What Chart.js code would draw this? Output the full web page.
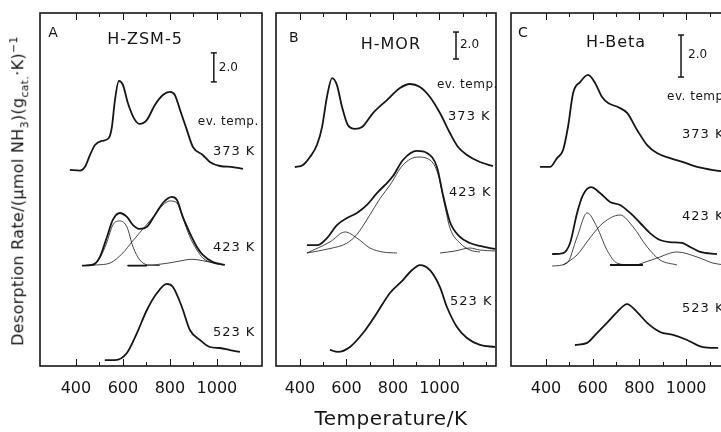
<!DOCTYPE html>
<html>
<head>
<meta charset="utf-8">
<script src="https://cdn.jsdelivr.net/npm/chart.js@4.4.1/dist/chart.umd.min.js"></script>
<style>
  html, body { margin: 0; padding: 0; background: #fff; }
  #fig { position: relative; width: 721px; height: 432px; overflow: hidden; font-family: "DejaVu Sans", sans-serif; color: #161616; }
  #fig canvas { position: absolute; top: 0; }
  #ytitle { position: absolute; left: 19px; top: 191px; transform: translate(-50%, -50%) rotate(-90deg); white-space: nowrap; font-size: 16px; letter-spacing: 0.3px; }
  #ytitle sub, #ytitle sup { font-size: 11px; }
  #xtitle { position: absolute; left: 391px; top: 418px; transform: translate(-50%, -50%); white-space: nowrap; font-size: 20px; letter-spacing: 0.5px; }
</style>
</head>
<body>
<div id="fig">
  <canvas id="cA" width="242" height="432" style="left:30px"></canvas>
  <canvas id="cB" width="240" height="432" style="left:266px"></canvas>
  <canvas id="cC" width="240" height="432" style="left:501px"></canvas>
  <div id="ytitle">Desorption Rate/(&mu;mol NH<sub>3</sub>)(g<sub>cat.</sub>&middot;K)<sup>&minus;1</sup></div>
  <div id="xtitle">Temperature/K</div>
</div>
<script>
  // text
  const panelNames = ['H-ZSM-5', 'H-MOR', 'H-Beta'];
  const panelLetters = ['A', 'B', 'C'];
  const evTemps = ['373 K', '423 K', '523 K'];
  const evLabel = 'ev. temp.';
  const scaleBarValue = 2.0;
  const labeledTicks = [400, 600, 800, 1000];

  // [T (K), desorption rate incl. stacking offset]
  // H-ZSM-5
  const zsm373 = [[374,13.52],[417,13.47],[438,13.72],[460,14.55],[481,15.24],[511,15.52],[540,15.72],[553,16.48],[566,18.34],[583,19.66],[600,19.38],[621,18.14],[651,16.97],[672,16.69],[702,16.97],[736,18.0],[770,18.69],[800,18.9],[821,18.69],[843,17.66],[872,16.28],[898,15.1],[940,14.55],[970,14.07],[1013,13.79],[1068,13.72],[1111,13.59]];
  const zsm423 = [[426,6.92],[472,6.97],[502,7.52],[532,8.9],[557,10.07],[587,10.55],[617,10.28],[643,9.72],[672,9.45],[702,9.59],[736,10.41],[770,11.24],[808,11.66],[830,11.45],[855,10.28],[885,9.17],[915,8.21],[940,7.66],[983,7.17],[1034,6.97]];
  const zsm423a = [[438,6.93],[481,7.1],[502,7.45],[532,8.55],[557,9.72],[587,10.0],[617,9.59],[643,8.21],[672,7.31],[706,6.97],[757,6.93]];
  const zsm423b = [[451,6.93],[489,6.97],[545,7.1],[600,7.8],[638,8.55],[685,9.45],[736,10.41],[770,11.1],[800,11.38],[830,11.24],[855,10.21],[885,8.9],[915,8.0],[940,7.45],[983,7.1],[1026,6.97]];
  const zsm423c = [[617,6.92],[702,6.94],[787,7.08],[843,7.24],[894,7.36],[940,7.26],[983,7.12],[1026,6.97]];
  const zsmBase = [[621,6.92],[702,6.92]];
  const zsm523 = [[523,0.41],[566,0.41],[617,0.9],[660,2.28],[702,3.86],[745,5.03],[787,5.66],[813,5.45],[851,4.07],[885,2.48],[928,1.79],[970,1.31],[1013,1.24],[1055,1.1],[1098,0.97]];

  // H-MOR
  const mor373 = [[378,14.74],[413,14.89],[443,15.48],[473,16.37],[495,17.7],[516,19.93],[538,21.33],[559,20.81],[581,19.19],[606,17.85],[637,17.56],[667,17.7],[714,18.74],[774,19.7],[830,20.59],[873,20.89],[916,20.67],[959,19.93],[1002,18.74],[1045,17.26],[1080,16.22],[1118,15.63],[1174,15.11],[1230,14.81]];
  const mor423 = [[430,8.96],[477,8.96],[516,9.48],[559,10.44],[602,10.96],[645,11.33],[688,11.93],[731,12.81],[766,13.41],[800,14.07],[843,15.26],[903,15.93],[946,15.78],[989,14.74],[1015,12.67],[1045,10.67],[1088,9.56],[1131,9.11],[1174,8.89],[1239,8.67]];
  const mor423big = [[430,8.37],[529,8.7],[602,9.1],[645,9.75],[701,11.2],[744,12.4],[787,13.4],[843,14.89],[907,15.48],[959,15.26],[994,14.2],[1024,11.8],[1045,10.22],[1088,9.11],[1131,8.59],[1174,8.44]];
  const mor423low = [[430,8.37],[529,9.19],[594,9.93],[645,9.48],[701,8.74],[757,8.44],[817,8.37]];
  const mor423high = [[1002,8.37],[1067,8.52],[1131,8.74],[1174,8.59],[1239,8.52]];
  const mor523 = [[529,1.19],[563,1.04],[615,1.41],[671,2.44],[731,3.93],[787,5.41],[843,6.37],[882,7.11],[916,7.48],[959,7.11],[1002,5.85],[1032,4.37],[1075,2.89],[1118,2.07],[1174,1.56],[1239,1.41]];

  // H-Beta
  const beta373 = [[374,9.48],[417,9.48],[447,9.9],[473,10.29],[494,11.38],[516,13.0],[546,13.52],[580,13.86],[610,13.48],[640,12.81],[666,12.52],[708,12.33],[747,12.05],[790,11.24],[833,10.52],[875,10.14],[931,9.9],[987,9.71],[1047,9.48],[1115,9.33],[1190,9.24]];
  const beta423 = [[426,5.33],[473,5.38],[503,5.86],[533,7.29],[558,8.14],[593,8.52],[631,8.24],[674,7.81],[717,7.67],[760,7.29],[803,6.81],[845,6.33],[888,6.0],[931,5.9],[982,5.86],[1017,5.67],[1060,5.43],[1132,5.33]];
  const beta423a = [[426,4.76],[490,4.9],[533,6.14],[576,7.29],[618,6.62],[661,5.52],[704,4.9],[760,4.81]];
  const beta423b = [[473,4.81],[533,5.29],[588,6.1],[644,6.81],[717,7.19],[773,6.62],[833,5.67],[888,5.05],[961,4.81]];
  const beta423c = [[790,4.81],[875,5.14],[961,5.43],[1047,5.19],[1115,4.9],[1167,4.81]];
  const betaBase = [[674,4.81],[815,4.81]];
  const beta523 = [[524,1.0],[576,1.1],[618,1.57],[661,2.05],[704,2.57],[747,2.95],[790,2.57],[833,2.05],[888,1.62],[944,1.48],[1004,1.24],[1072,0.9],[1137,0.86]];

  const ink = '#161616';

  const panels = [
    { id: 'cA', xMin: 247, xMax: 1192, yMax: 24.34, ticks: [400,500,600,700,800,900,1000,1100],
      thick: [zsm373, zsm423, zsm523, zsmBase], thin: [zsm423a, zsm423b, zsm423c],
      bar: [987, 19.59], letter: [302, 22.97], title: [694, 22.48], barText: [1008, 20.55],
      ev: [919, 16.83], temps: [[983, 14.76], [983, 8.14], [983, 2.28]] },
    { id: 'cB', xMin: 297, xMax: 1243, yMax: 26.15, ticks: [400,500,600,700,800,900,1000,1100,1200],
      thick: [mor373, mor423, mor523], thin: [mor423big, mor423low, mor423high],
      bar: [1071, 22.74], letter: [374, 24.3], title: [791, 23.78], barText: [1088, 23.78],
      ev: [989, 20.81], temps: [[1037, 18.44], [1041, 12.81], [1045, 4.74]] },
    { id: 'cC', xMin: 250, xMax: 1192, yMax: 16.81, ticks: [400,500,600,700,800,900,1000,1100],
      thick: [beta373, beta423, beta523, betaBase], thin: [beta423a, beta423b, beta423c],
      bar: [978, 13.76], letter: [301, 15.86], title: [700, 15.38], barText: [1008, 14.81],
      ev: [918, 12.81], temps: [[982, 11.0], [982, 7.1], [982, 2.71]] }
  ];

  const panelDecor = {
    id: 'panelDecor',
    afterDatasetsDraw(chart, args, opts) {
      const { ctx, chartArea: a } = chart;
      const x = chart.scales.x, y = chart.scales.y;
      ctx.save();
      ctx.strokeStyle = ink;
      ctx.lineWidth = 1.6;
      ctx.strokeRect(a.left, a.top, a.right - a.left, a.bottom - a.top);
      ctx.lineWidth = 1;
      opts.ticks.forEach(v => {
        const px = Math.round(x.getPixelForValue(v)) + 0.5;
        const len = labeledTicks.includes(v) ? 7 : 4;
        ctx.beginPath();
        ctx.moveTo(px, a.bottom); ctx.lineTo(px, a.bottom - len);
        ctx.moveTo(px, a.top); ctx.lineTo(px, a.top + len);
        ctx.stroke();
      });
      ctx.fillStyle = ink;
      ctx.textBaseline = 'middle';
      opts.texts.forEach(t => {
        ctx.font = t.size + 'px "DejaVu Sans"';
        ctx.textAlign = t.align;
        ctx.letterSpacing = (t.spacing || 0) + 'px';
        ctx.fillText(t.text, x.getPixelForValue(t.at[0]), y.getPixelForValue(t.at[1]));
      });
      ctx.restore();
    }
  };

  function line(points, width) {
    return {
      data: points.map(p => ({ x: p[0], y: p[1] })),
      borderColor: ink,
      borderWidth: width,
      pointRadius: 0,
      fill: false,
      cubicInterpolationMode: 'monotone'
    };
  }

  panels.forEach((p, i) => {
    const datasets = [];
    p.thin.forEach(c => datasets.push(line(c, 0.8)));
    p.thick.forEach(c => datasets.push(line(c, 1.8)));
    // 2.0 scale bar
    datasets.push({
      data: [{ x: p.bar[0], y: p.bar[1] }, { x: p.bar[0], y: p.bar[1] + scaleBarValue }],
      borderColor: ink, borderWidth: 1.5, tension: 0,
      pointStyle: 'line', pointRadius: 3, pointBorderWidth: 1.5, pointBorderColor: ink
    });

    const texts = [
      { text: panelLetters[i], at: p.letter, size: 14, align: 'center' },
      { text: panelNames[i], at: p.title, size: 16, align: 'center', spacing: 1 },
      { text: scaleBarValue.toFixed(1), at: p.barText, size: 12, align: 'left' },
      { text: evLabel, at: p.ev, size: 12, align: 'left', spacing: 0.5 }
    ];
    evTemps.forEach((t, k) => texts.push({ text: t, at: p.temps[k], size: 13, align: 'left', spacing: 1 }));

    new Chart(document.getElementById(p.id), {
      type: 'line',
      data: { datasets },
      plugins: [panelDecor],
      options: {
        responsive: false,
        animation: false,
        layout: { padding: { left: 10, right: 10, top: 13, bottom: 0 } },
        plugins: {
          legend: { display: false },
          tooltip: { enabled: false },
          panelDecor: { ticks: p.ticks, texts }
        },
        scales: {
          x: {
            type: 'linear',
            min: p.xMin,
            max: p.xMax,
            grid: { display: false, drawTicks: false },
            border: { display: false },
            afterBuildTicks: s => { s.ticks = p.ticks.map(v => ({ value: v })); },
            afterFit: s => { s.height = 66; },
            ticks: {
              padding: 13,
              color: ink,
              autoSkip: false,
              maxRotation: 0,
              font: { family: 'DejaVu Sans', size: 16 },
              callback: v => labeledTicks.includes(v) ? String(v) : ''
            }
          },
          y: { display: false, min: 0, max: p.yMax }
        }
      }
    });
  });
</script>
</body>
</html>
